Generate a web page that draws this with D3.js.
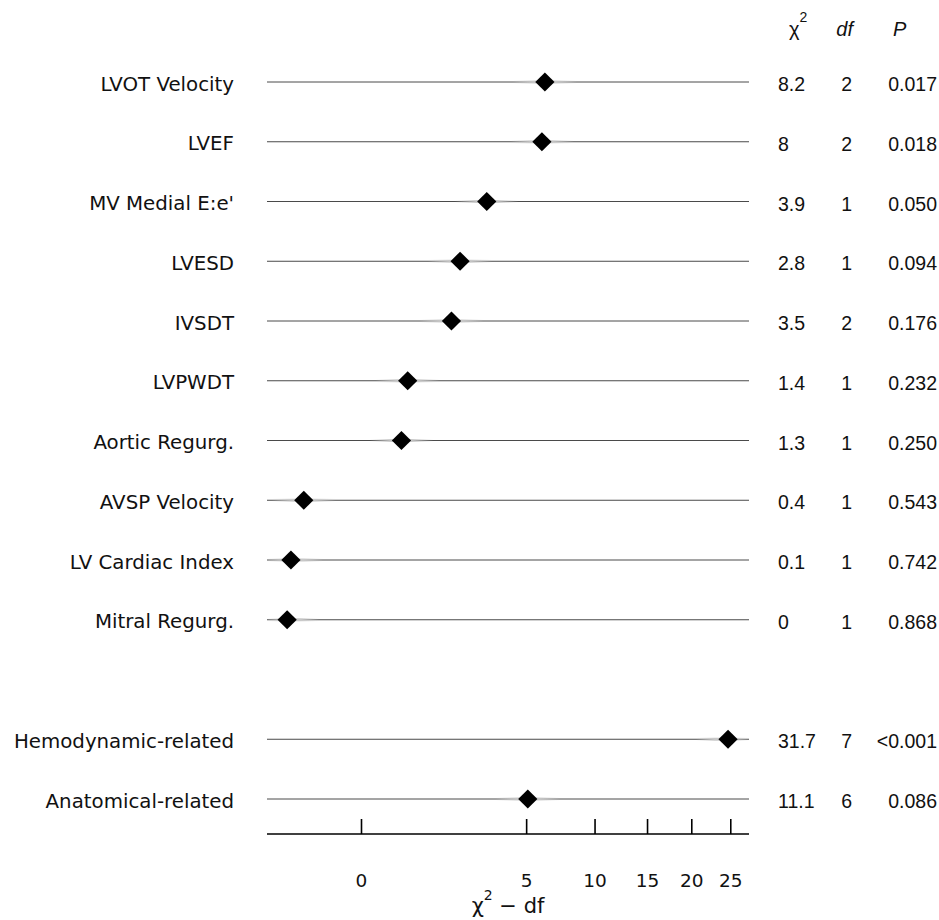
<!DOCTYPE html>
<html>
<head>
  <meta charset="UTF-8">
  <style>
    body { margin: 0; background: white; }
    .label { font-family: "DejaVu Sans", sans-serif; font-size: 19.8px; fill: #111; }
    .stat { font-family: "Liberation Sans", Arial, sans-serif; font-size: 19.5px; fill: #111; }
    .head { font-family: "Liberation Sans", Arial, sans-serif; font-size: 20px; fill: #111; }
    .tick text { font-family: "DejaVu Sans", sans-serif; font-size: 18.5px; fill: #111; }
    .axisTitle { font-family: "DejaVu Sans", sans-serif; font-size: 21px; fill: #111; }
  </style>
</head>
<body>
<div id="chart"></div>

<script src="https://d3js.org/d3.v7.min.js"></script>
<script>

// factors, one row each (null = blank spacer row)
let factors = ["LVOT Velocity", "LVEF", "MV Medial E:e'", "LVESD", "IVSDT", "LVPWDT",
               "Aortic Regurg.", "AVSP Velocity", "LV Cardiac Index", "Mitral Regurg.",
               null, "Hemodynamic-related", "Anatomical-related"];
let chiSq = [8.2, 8, 3.9, 2.8, 3.5, 1.4, 1.3, 0.4, 0.1, 0, null, 31.7, 11.1];
let dfs = [2, 2, 1, 1, 2, 1, 1, 1, 1, 1, null, 7, 6];
let pValues = ["0.017", "0.018", "0.050", "0.094", "0.176", "0.232", "0.250",
               "0.543", "0.742", "0.868", null, "<0.001", "0.086"];
let xTicks = [0, 5, 10, 15, 20, 25];

let rows = factors.map((f, i) => ({
    name: f, chi: chiSq[i], df: dfs[i], p: pValues[i], idx: i
})).filter(d => d.name != null);

let width = 939, height = 920;

let svg = d3.select("#chart").append("svg")
    .attr("width", width)
    .attr("height", height);

// sqrt scale, sign preserving (d3 pow handles negatives)
let x = d3.scaleSqrt()
    .domain([-1.62, 27.6])
    .range([267, 749]);

let y = d3.scaleLinear()
    .domain([0, factors.length - 1])
    .range([82, 799]);

// fading halo around each diamond
let grad = svg.append("defs").append("linearGradient")
    .attr("id", "halo");
grad.append("stop").attr("offset", "0%").attr("stop-color", "#d0d0d0").attr("stop-opacity", 0);
grad.append("stop").attr("offset", "35%").attr("stop-color", "#c8c8c8").attr("stop-opacity", 1);
grad.append("stop").attr("offset", "65%").attr("stop-color", "#c8c8c8").attr("stop-opacity", 1);
grad.append("stop").attr("offset", "100%").attr("stop-color", "#d0d0d0").attr("stop-opacity", 0);

let g = svg.append("g");

let row = g.selectAll("g.row")
    .data(rows)
    .enter()
    .append("g")
    .attr("class", "row")
    .attr("transform", d => "translate(0," + y(d.idx) + ")");

row.append("line")
    .attr("x1", x.range()[0])
    .attr("x2", x.range()[1])
    .attr("stroke", "#4a4a4a")
    .attr("stroke-width", 1);

row.append("rect")
    .attr("x", d => Math.max(x.range()[0], x(d.chi - d.df) - 32))
    .attr("width", d => Math.min(x.range()[1], x(d.chi - d.df) + 32) - Math.max(x.range()[0], x(d.chi - d.df) - 32))
    .attr("y", -1.5)
    .attr("height", 3)
    .attr("fill", "url(#halo)");

row.append("path")
    .attr("d", d3.symbol(d3.symbolSquare, 185))
    .attr("transform", d => "translate(" + x(d.chi - d.df) + ",0) rotate(45)")
    .attr("fill", "black");

row.append("text")
    .attr("class", "label")
    .attr("x", 234)
    .attr("y", 8.5)
    .attr("text-anchor", "end")
    .text(d => d.name);

row.append("text")
    .attr("class", "stat")
    .attr("x", 778)
    .attr("y", 9)
    .text(d => d.chi);

row.append("text")
    .attr("class", "stat")
    .attr("x", 852)
    .attr("y", 9)
    .attr("text-anchor", "end")
    .text(d => d.df);

row.append("text")
    .attr("class", "stat")
    .attr("x", 937)
    .attr("y", 9)
    .attr("text-anchor", "end")
    .text(d => d.p);

// column headers
let chiHead = svg.append("text")
    .attr("class", "head")
    .attr("x", 789)
    .attr("y", 36);
chiHead.append("tspan").text("χ");
chiHead.append("tspan").attr("dy", -14).attr("font-size", 14).text("2");

svg.append("text")
    .attr("class", "head")
    .attr("x", 853)
    .attr("y", 36)
    .attr("text-anchor", "end")
    .attr("font-style", "italic")
    .text("df");

svg.append("text")
    .attr("class", "head")
    .attr("x", 893)
    .attr("y", 36)
    .attr("font-style", "italic")
    .text("P");

// x axis with ticks pointing up
let axis = svg.append("g")
    .attr("transform", "translate(0,834)")
    .call(d3.axisTop(x).tickValues(xTicks).tickSize(15).tickPadding(0).tickSizeOuter(0));

axis.select(".domain")
    .attr("d", "M" + x.range()[0] + ",0H" + x.range()[1])
    .attr("stroke", "black")
    .attr("stroke-width", 1.6);
axis.selectAll(".tick line")
    .attr("stroke", "black")
    .attr("stroke-width", 1.6);
axis.selectAll(".tick text")
    .attr("y", 53)
    .attr("dy", 0);

let title = svg.append("text")
    .attr("class", "axisTitle")
    .attr("x", (x.range()[0] + x.range()[1]) / 2)
    .attr("y", 913)
    .attr("text-anchor", "middle");
title.append("tspan").text("χ");
title.append("tspan").attr("dy", -13).attr("font-size", 14).text("2");
title.append("tspan").attr("dy", 13).text(" − df");

</script>
</body>
</html>
